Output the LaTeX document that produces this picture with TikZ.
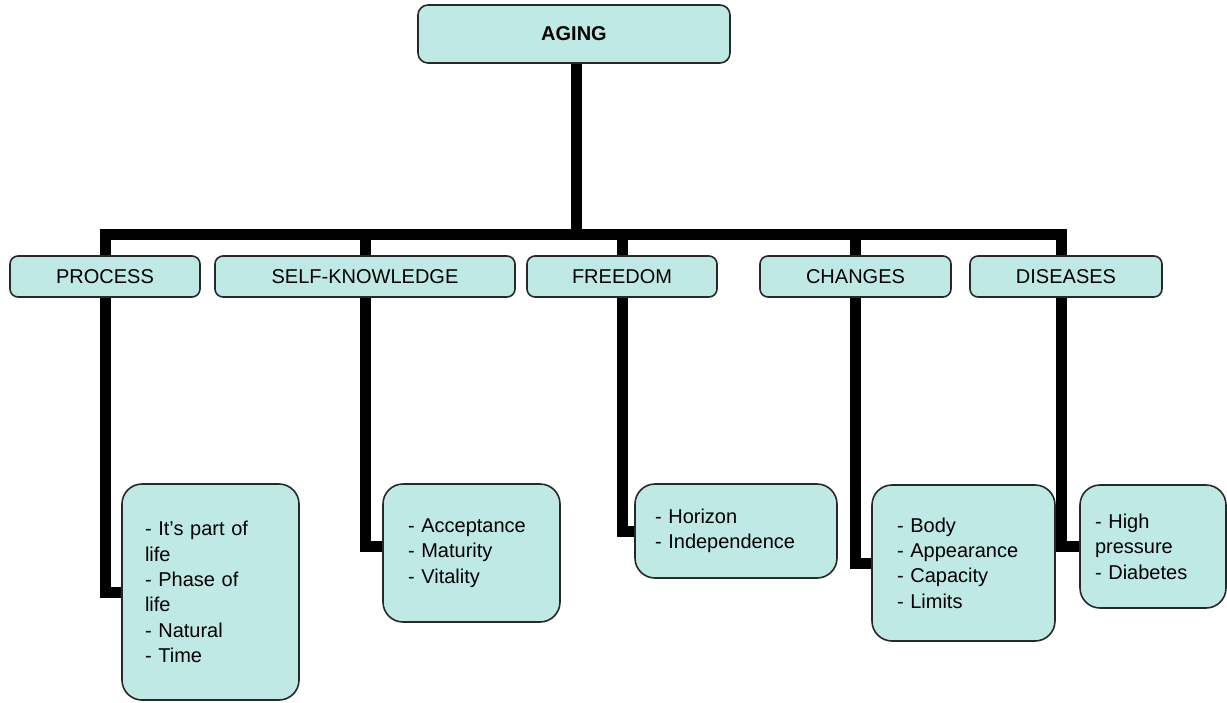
\documentclass[tikz,border=0pt]{standalone}
\usepackage{fontspec}
\setmainfont{Liberation Sans}
\definecolor{boxfill}{RGB}{191,233,228}
\definecolor{boxline}{RGB}{40,40,40}
\begin{document}
\begin{tikzpicture}[x=0.5pt,y=-0.5pt,
 box/.style={draw=boxline, line width=0.8pt, fill=boxfill, font=\fontsize{10}{12.7}\selectfont},
 topbox/.style={box, rounded corners=5pt, minimum width=156pt, minimum height=29pt, inner sep=0pt, font=\fontsize{10}{12.7}\selectfont\bfseries},
 midbox/.style={box, rounded corners=4pt, minimum height=20.5pt, inner sep=0pt},
 leafbox/.style={box, rounded corners=10pt, align=left, inner ysep=0pt},
 conn/.style={line width=5.5pt, line cap=butt, line join=miter}]
\useasboundingbox (0,0) rectangle (1227,702);

\node[topbox] (aging) at (574,34) {AGING};

\node[midbox, minimum width=95pt] (process) at (105,276.5) {PROCESS};
\node[midbox, minimum width=150pt] (self) at (365,276.5) {SELF-KNOWLEDGE};
\node[midbox, minimum width=95pt] (freedom) at (622,276.5) {FREEDOM};
\node[midbox, minimum width=95.5pt] (changes) at (855.5,276.5) {CHANGES};
\node[midbox, minimum width=96pt] (diseases) at (1066,276.5) {DISEASES};

\coordinate (bar) at (576,234);
\coordinate (dtop) at ([xshift=-2.5pt]diseases.north);
\coordinate (dbot) at ([xshift=-2.5pt]diseases.south);

\node[leafbox, inner xsep=11.5pt, text width=65.5pt, minimum height=108pt] (pleaf) at (210.5,592)
 {- It's part of\\life\\- Phase of\\life\\- Natural\\- Time};
\node[leafbox, inner xsep=12.5pt, text width=63.5pt, minimum height=69pt] (sleaf) at (471.5,553)
 {- Acceptance\\- Maturity\\- Vitality};
\node[leafbox, inner xsep=10pt, text width=81pt, minimum height=47pt] (fleaf) at (736,531)
 {- Horizon\\- Independence};
\node[leafbox, inner xsep=12.5pt, text width=66.5pt, minimum height=78pt] (cleaf) at (963.5,563)
 {- Body\\- Appearance\\- Capacity\\- Limits};
\node[leafbox, inner xsep=7.5pt, text width=58pt, minimum height=61.5pt] (dleaf) at (1153,546.5)
 {- High\\pressure\\- Diabetes};

\coordinate (sin) at ([yshift=3.5pt]sleaf.west);

\draw[conn] (aging.south -| bar) -- (bar);
\foreach \n in {process.north,self.north,freedom.north,changes.north,dtop}{
  \draw[conn] (bar) -| (\n);
}
\draw[conn] (process.south) |- (pleaf.west);
\draw[conn] (self.south) |- (sin);
\draw[conn] (freedom.south) |- (fleaf.west);
\draw[conn] (changes.south) |- (cleaf.west);
\draw[conn] (dbot) |- (dleaf.west);
\end{tikzpicture}
\end{document}
